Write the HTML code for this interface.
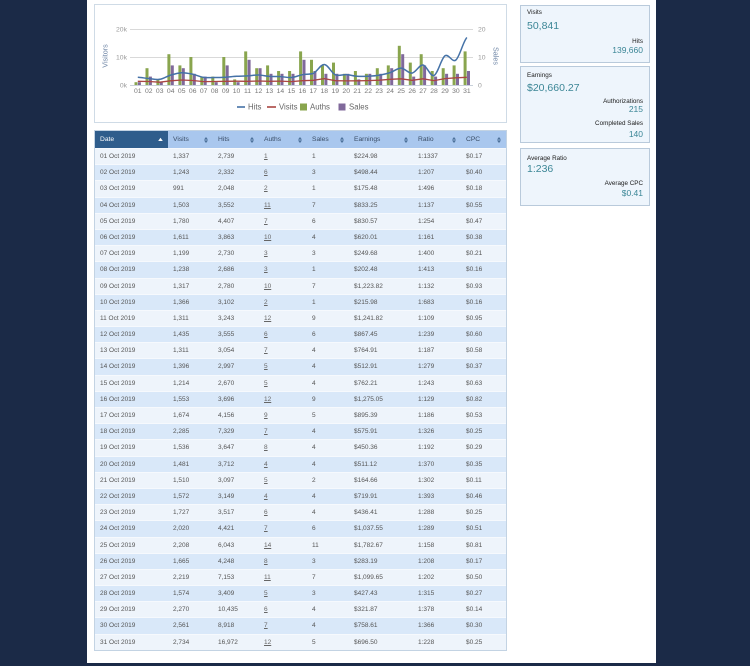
<!DOCTYPE html>
<html>
<head>
<meta charset="utf-8">
<style>
  html,body{margin:0;padding:0;}
  body{width:750px;height:666px;background:#1b2a47;position:relative;overflow:hidden;font-family:"Liberation Sans",Arial,sans-serif;}
  .page{position:absolute;left:87px;top:0;width:569px;height:663px;background:#fff;}
  .chartbox{position:absolute;left:94px;top:4px;width:413px;height:119px;border:1px solid #cfdbe6;box-sizing:border-box;background:#fff;}
  svg.chart{position:absolute;left:0;top:0;}
  .panel{position:absolute;left:520px;width:130px;background:#eef5fc;border:1px solid #b9cadb;box-sizing:border-box;}
  .t{position:absolute;white-space:nowrap;line-height:1;}
  .lbl{font-size:6.3px;color:#1a1a1a;}
  .big{font-size:10.5px;color:#3b8696;}
  .mid{font-size:8.5px;color:#3b8696;}
  .tbl{position:absolute;left:94px;top:130px;width:413px;border:1px solid #c3d3e3;box-sizing:border-box;font-size:6.5px;color:#555;background:#eef4fb;}
  .hd{display:flex;height:17px;line-height:17px;background:#a9c7ee;color:#3a4d66;font-size:6.7px;}
  .hd > div{position:relative;padding-left:5px;box-sizing:border-box;}
  .hd > div.dt{background:#2f5d8c;color:#fff;}
  .hd svg{position:absolute;right:5px;top:5.5px;}
  .r{display:flex;height:16.2px;line-height:16.2px;box-sizing:border-box;border-top:1px solid #f6f9fd;}
  .r > div{padding-left:5px;box-sizing:border-box;white-space:nowrap;}
  .a{background:#eef4fb;}
  .b{background:#d9e8f9;}
  .c1{width:73px}.c2{width:45px}.c3{width:46px}.c4{width:48px}.c5{width:42px}.c6{width:64px}.c7{width:48px}.c8{width:45px}
  .u{text-decoration:underline;color:#666;}
</style>
</head>
<body>
<div class="page"></div>

<div class="chartbox"></div>
<svg class="chart" width="750" height="130" viewBox="0 0 750 130" font-family="Liberation Sans, Arial, sans-serif">
  <line x1="130" y1="29.5" x2="473" y2="29.5" stroke="#d9d9d9" stroke-width="1"/>
  <line x1="130" y1="57.5" x2="473" y2="57.5" stroke="#d9d9d9" stroke-width="1"/>
  <line x1="130" y1="85.5" x2="473" y2="85.5" stroke="#c8d0da" stroke-width="1"/>
  <g font-size="6.8" fill="#999" text-anchor="end">
    <text x="127" y="31.5">20k</text>
    <text x="127" y="59.5">10k</text>
    <text x="127" y="87.5">0k</text>
  </g>
  <g font-size="6.8" fill="#999" text-anchor="start">
    <text x="478" y="31.5">20</text>
    <text x="478" y="59.5">10</text>
    <text x="478" y="87.5">0</text>
  </g>
  <text transform="translate(107.5,56) rotate(-90)" font-size="7.2" fill="#6f86a6" text-anchor="middle">Visitors</text>
  <text transform="translate(493.5,56) rotate(90)" font-size="7.2" fill="#6f86a6" text-anchor="middle">Sales</text>

  <g font-size="6.8" fill="#777" text-anchor="middle">
    <g transform="translate(137.8,0)"><rect x="-3.3" y="82.2" width="3" height="2.8" fill="#89A54E"/><rect x="0.1" y="82.2" width="3" height="2.8" fill="#80699B"/><text x="0" y="92.8">01</text></g>
    <g transform="translate(148.8,0)"><rect x="-3.3" y="68.2" width="3" height="16.8" fill="#89A54E"/><rect x="0.1" y="76.6" width="3" height="8.4" fill="#80699B"/><text x="0" y="92.8">02</text></g>
    <g transform="translate(159.7,0)"><rect x="-3.3" y="79.4" width="3" height="5.6" fill="#89A54E"/><rect x="0.1" y="82.2" width="3" height="2.8" fill="#80699B"/><text x="0" y="92.8">03</text></g>
    <g transform="translate(170.7,0)"><rect x="-3.3" y="54.2" width="3" height="30.8" fill="#89A54E"/><rect x="0.1" y="65.4" width="3" height="19.6" fill="#80699B"/><text x="0" y="92.8">04</text></g>
    <g transform="translate(181.7,0)"><rect x="-3.3" y="65.4" width="3" height="19.6" fill="#89A54E"/><rect x="0.1" y="68.2" width="3" height="16.8" fill="#80699B"/><text x="0" y="92.8">05</text></g>
    <g transform="translate(192.7,0)"><rect x="-3.3" y="57" width="3" height="28" fill="#89A54E"/><rect x="0.1" y="73.8" width="3" height="11.2" fill="#80699B"/><text x="0" y="92.8">06</text></g>
    <g transform="translate(203.6,0)"><rect x="-3.3" y="76.6" width="3" height="8.4" fill="#89A54E"/><rect x="0.1" y="76.6" width="3" height="8.4" fill="#80699B"/><text x="0" y="92.8">07</text></g>
    <g transform="translate(214.6,0)"><rect x="-3.3" y="76.6" width="3" height="8.4" fill="#89A54E"/><rect x="0.1" y="82.2" width="3" height="2.8" fill="#80699B"/><text x="0" y="92.8">08</text></g>
    <g transform="translate(225.6,0)"><rect x="-3.3" y="57" width="3" height="28" fill="#89A54E"/><rect x="0.1" y="65.4" width="3" height="19.6" fill="#80699B"/><text x="0" y="92.8">09</text></g>
    <g transform="translate(236.5,0)"><rect x="-3.3" y="79.4" width="3" height="5.6" fill="#89A54E"/><rect x="0.1" y="82.2" width="3" height="2.8" fill="#80699B"/><text x="0" y="92.8">10</text></g>
    <g transform="translate(247.5,0)"><rect x="-3.3" y="51.4" width="3" height="33.6" fill="#89A54E"/><rect x="0.1" y="59.8" width="3" height="25.2" fill="#80699B"/><text x="0" y="92.8">11</text></g>
    <g transform="translate(258.5,0)"><rect x="-3.3" y="68.2" width="3" height="16.8" fill="#89A54E"/><rect x="0.1" y="68.2" width="3" height="16.8" fill="#80699B"/><text x="0" y="92.8">12</text></g>
    <g transform="translate(269.4,0)"><rect x="-3.3" y="65.4" width="3" height="19.6" fill="#89A54E"/><rect x="0.1" y="73.8" width="3" height="11.2" fill="#80699B"/><text x="0" y="92.8">13</text></g>
    <g transform="translate(280.4,0)"><rect x="-3.3" y="71" width="3" height="14" fill="#89A54E"/><rect x="0.1" y="73.8" width="3" height="11.2" fill="#80699B"/><text x="0" y="92.8">14</text></g>
    <g transform="translate(291.4,0)"><rect x="-3.3" y="71" width="3" height="14" fill="#89A54E"/><rect x="0.1" y="73.8" width="3" height="11.2" fill="#80699B"/><text x="0" y="92.8">15</text></g>
    <g transform="translate(302.4,0)"><rect x="-3.3" y="51.4" width="3" height="33.6" fill="#89A54E"/><rect x="0.1" y="59.8" width="3" height="25.2" fill="#80699B"/><text x="0" y="92.8">16</text></g>
    <g transform="translate(313.3,0)"><rect x="-3.3" y="59.8" width="3" height="25.2" fill="#89A54E"/><rect x="0.1" y="71" width="3" height="14" fill="#80699B"/><text x="0" y="92.8">17</text></g>
    <g transform="translate(324.3,0)"><rect x="-3.3" y="65.4" width="3" height="19.6" fill="#89A54E"/><rect x="0.1" y="73.8" width="3" height="11.2" fill="#80699B"/><text x="0" y="92.8">18</text></g>
    <g transform="translate(335.3,0)"><rect x="-3.3" y="62.6" width="3" height="22.4" fill="#89A54E"/><rect x="0.1" y="73.8" width="3" height="11.2" fill="#80699B"/><text x="0" y="92.8">19</text></g>
    <g transform="translate(346.2,0)"><rect x="-3.3" y="73.8" width="3" height="11.2" fill="#89A54E"/><rect x="0.1" y="73.8" width="3" height="11.2" fill="#80699B"/><text x="0" y="92.8">20</text></g>
    <g transform="translate(357.2,0)"><rect x="-3.3" y="71" width="3" height="14" fill="#89A54E"/><rect x="0.1" y="79.4" width="3" height="5.6" fill="#80699B"/><text x="0" y="92.8">21</text></g>
    <g transform="translate(368.2,0)"><rect x="-3.3" y="73.8" width="3" height="11.2" fill="#89A54E"/><rect x="0.1" y="73.8" width="3" height="11.2" fill="#80699B"/><text x="0" y="92.8">22</text></g>
    <g transform="translate(379.1,0)"><rect x="-3.3" y="68.2" width="3" height="16.8" fill="#89A54E"/><rect x="0.1" y="73.8" width="3" height="11.2" fill="#80699B"/><text x="0" y="92.8">23</text></g>
    <g transform="translate(390.1,0)"><rect x="-3.3" y="65.4" width="3" height="19.6" fill="#89A54E"/><rect x="0.1" y="68.2" width="3" height="16.8" fill="#80699B"/><text x="0" y="92.8">24</text></g>
    <g transform="translate(401.1,0)"><rect x="-3.3" y="45.8" width="3" height="39.2" fill="#89A54E"/><rect x="0.1" y="54.2" width="3" height="30.8" fill="#80699B"/><text x="0" y="92.8">25</text></g>
    <g transform="translate(412.1,0)"><rect x="-3.3" y="62.6" width="3" height="22.4" fill="#89A54E"/><rect x="0.1" y="76.6" width="3" height="8.4" fill="#80699B"/><text x="0" y="92.8">26</text></g>
    <g transform="translate(423.0,0)"><rect x="-3.3" y="54.2" width="3" height="30.8" fill="#89A54E"/><rect x="0.1" y="65.4" width="3" height="19.6" fill="#80699B"/><text x="0" y="92.8">27</text></g>
    <g transform="translate(434.0,0)"><rect x="-3.3" y="71" width="3" height="14" fill="#89A54E"/><rect x="0.1" y="76.6" width="3" height="8.4" fill="#80699B"/><text x="0" y="92.8">28</text></g>
    <g transform="translate(445.0,0)"><rect x="-3.3" y="68.2" width="3" height="16.8" fill="#89A54E"/><rect x="0.1" y="73.8" width="3" height="11.2" fill="#80699B"/><text x="0" y="92.8">29</text></g>
    <g transform="translate(455.9,0)"><rect x="-3.3" y="65.4" width="3" height="19.6" fill="#89A54E"/><rect x="0.1" y="73.8" width="3" height="11.2" fill="#80699B"/><text x="0" y="92.8">30</text></g>
    <g transform="translate(466.9,0)"><rect x="-3.3" y="51.4" width="3" height="33.6" fill="#89A54E"/><rect x="0.1" y="71" width="3" height="14" fill="#80699B"/><text x="0" y="92.8">31</text></g>
  </g>

  <polyline fill="none" stroke="#AA4643" stroke-width="1.3" stroke-linejoin="round"
    points="137.8,81.3 148.8,81.5 159.7,82.2 170.7,80.8 181.7,80.0 192.7,80.5 203.6,81.6 214.6,81.5 225.6,81.3 236.5,81.2 247.5,81.3 258.5,81.0 269.4,81.3 280.4,81.1 291.4,81.6 302.4,80.7 313.3,80.3 324.3,78.6 335.3,80.7 346.2,80.9 357.2,80.8 368.2,80.6 379.1,80.2 390.1,79.3 401.1,78.8 412.1,80.3 423.0,78.8 434.0,80.6 445.0,78.6 455.9,77.8 466.9,77.3"/>
  <path fill="none" stroke="#4572A7" stroke-width="1.5" stroke-linejoin="round"
    d="M137.8,77.3 C141.5,77.5 145.1,78.2 148.8,78.5 C152.5,78.8 156.0,79.9 159.7,79.3 C163.4,78.7 167.0,76.2 170.7,75.1 C174.4,74.0 178.0,72.9 181.7,72.7 C185.4,72.6 189.0,73.4 192.7,74.2 C196.4,75.0 199.9,76.9 203.6,77.4 C207.3,78.0 210.9,77.5 214.6,77.5 C218.3,77.5 221.9,77.4 225.6,77.2 C229.3,77.0 232.8,76.5 236.5,76.3 C240.2,76.1 243.8,76.1 247.5,75.9 C251.2,75.7 254.8,74.9 258.5,75.0 C262.2,75.1 265.7,76.1 269.4,76.4 C273.1,76.7 276.7,76.4 280.4,76.6 C284.1,76.8 287.7,77.8 291.4,77.5 C295.1,77.2 298.7,75.4 302.4,74.7 C306.1,74.0 309.6,74.6 313.3,73.4 C317.0,71.7 320.6,64.3 324.3,64.5 C328.0,64.7 331.6,73.1 335.3,74.8 C339.0,76.5 342.5,74.4 346.2,74.6 C349.9,74.8 353.5,76.0 357.2,76.3 C360.9,76.6 364.5,76.4 368.2,76.2 C371.9,76.0 375.4,75.8 379.1,75.2 C382.8,74.6 386.4,73.8 390.1,72.6 C393.8,71.4 397.4,68.0 401.1,68.1 C404.8,68.2 408.4,73.6 412.1,73.1 C415.8,72.6 419.3,64.6 423.0,65.0 C426.7,65.4 430.3,77.0 434.0,75.5 C437.7,74.0 441.3,58.4 445.0,55.8 C448.7,53.2 452.2,63.1 455.9,60.0 C459.6,56.9 463.2,41.3 466.9,37.5"/>

  <g font-size="7.8" fill="#666">
    <line x1="237" y1="107" x2="245" y2="107" stroke="#4572A7" stroke-width="1.6"/>
    <text x="248" y="109.7">Hits</text>
    <line x1="267" y1="107" x2="276" y2="107" stroke="#AA4643" stroke-width="1.6"/>
    <text x="279" y="109.7">Visits</text>
    <rect x="300" y="103.5" width="7" height="7" fill="#89A54E"/>
    <text x="310" y="109.7">Auths</text>
    <rect x="338.5" y="103.5" width="7" height="7" fill="#80699B"/>
    <text x="349" y="109.7">Sales</text>
  </g>
</svg>

<div class="panel" style="top:5px;height:58px;"></div>
<div class="panel" style="top:66px;height:77px;"></div>
<div class="panel" style="top:148px;height:58px;"></div>

<div class="t lbl" style="left:527px;top:10px;">Visits</div>
<div class="t big" style="left:527px;top:20.8px;">50,841</div>
<div class="t lbl" style="right:107px;top:39px;">Hits</div>
<div class="t mid" style="right:107px;top:45.8px;">139,660</div>

<div class="t lbl" style="left:527px;top:73px;">Earnings</div>
<div class="t big" style="left:527px;top:82.8px;">$20,660.27</div>
<div class="t lbl" style="right:107px;top:99px;">Authorizations</div>
<div class="t mid" style="right:107px;top:104.8px;">215</div>
<div class="t lbl" style="right:107px;top:121px;">Completed Sales</div>
<div class="t mid" style="right:107px;top:129.8px;">140</div>

<div class="t lbl" style="left:527px;top:156px;">Average Ratio</div>
<div class="t big" style="left:527px;top:163.8px;">1:236</div>
<div class="t lbl" style="right:107px;top:181px;">Average CPC</div>
<div class="t mid" style="right:107px;top:188.8px;">$0.41</div>

<div class="tbl">
  <div class="hd">
    <div class="c1 dt">Date<svg width="5" height="5"><path d="M2.5 0.8L4.8 4H0.2Z" fill="#fff"/></svg></div>
    <div class="c2">Visits<svg width="4" height="6"><path d="M2 0L4 2.6H0Z M2 6L4 3.4H0Z" fill="#4b6f98"/></svg></div>
    <div class="c3">Hits<svg width="4" height="6"><path d="M2 0L4 2.6H0Z M2 6L4 3.4H0Z" fill="#4b6f98"/></svg></div>
    <div class="c4">Auths<svg width="4" height="6"><path d="M2 0L4 2.6H0Z M2 6L4 3.4H0Z" fill="#4b6f98"/></svg></div>
    <div class="c5">Sales<svg width="4" height="6"><path d="M2 0L4 2.6H0Z M2 6L4 3.4H0Z" fill="#4b6f98"/></svg></div>
    <div class="c6">Earnings<svg width="4" height="6"><path d="M2 0L4 2.6H0Z M2 6L4 3.4H0Z" fill="#4b6f98"/></svg></div>
    <div class="c7">Ratio<svg width="4" height="6"><path d="M2 0L4 2.6H0Z M2 6L4 3.4H0Z" fill="#4b6f98"/></svg></div>
    <div class="c8">CPC<svg width="4" height="6"><path d="M2 0L4 2.6H0Z M2 6L4 3.4H0Z" fill="#4b6f98"/></svg></div>
  </div>
  <div class="r a"><div class="c1">01 Oct 2019</div><div class="c2">1,337</div><div class="c3">2,739</div><div class="c4"><span class="u">1</span></div><div class="c5">1</div><div class="c6">$224.98</div><div class="c7">1:1337</div><div class="c8">$0.17</div></div>
  <div class="r b"><div class="c1">02 Oct 2019</div><div class="c2">1,243</div><div class="c3">2,332</div><div class="c4"><span class="u">6</span></div><div class="c5">3</div><div class="c6">$498.44</div><div class="c7">1:207</div><div class="c8">$0.40</div></div>
  <div class="r a"><div class="c1">03 Oct 2019</div><div class="c2">991</div><div class="c3">2,048</div><div class="c4"><span class="u">2</span></div><div class="c5">1</div><div class="c6">$175.48</div><div class="c7">1:496</div><div class="c8">$0.18</div></div>
  <div class="r b"><div class="c1">04 Oct 2019</div><div class="c2">1,503</div><div class="c3">3,552</div><div class="c4"><span class="u">11</span></div><div class="c5">7</div><div class="c6">$833.25</div><div class="c7">1:137</div><div class="c8">$0.55</div></div>
  <div class="r a"><div class="c1">05 Oct 2019</div><div class="c2">1,780</div><div class="c3">4,407</div><div class="c4"><span class="u">7</span></div><div class="c5">6</div><div class="c6">$830.57</div><div class="c7">1:254</div><div class="c8">$0.47</div></div>
  <div class="r b"><div class="c1">06 Oct 2019</div><div class="c2">1,611</div><div class="c3">3,863</div><div class="c4"><span class="u">10</span></div><div class="c5">4</div><div class="c6">$620.01</div><div class="c7">1:161</div><div class="c8">$0.38</div></div>
  <div class="r a"><div class="c1">07 Oct 2019</div><div class="c2">1,199</div><div class="c3">2,730</div><div class="c4"><span class="u">3</span></div><div class="c5">3</div><div class="c6">$249.68</div><div class="c7">1:400</div><div class="c8">$0.21</div></div>
  <div class="r b"><div class="c1">08 Oct 2019</div><div class="c2">1,238</div><div class="c3">2,686</div><div class="c4"><span class="u">3</span></div><div class="c5">1</div><div class="c6">$202.48</div><div class="c7">1:413</div><div class="c8">$0.16</div></div>
  <div class="r a"><div class="c1">09 Oct 2019</div><div class="c2">1,317</div><div class="c3">2,780</div><div class="c4"><span class="u">10</span></div><div class="c5">7</div><div class="c6">$1,223.82</div><div class="c7">1:132</div><div class="c8">$0.93</div></div>
  <div class="r b"><div class="c1">10 Oct 2019</div><div class="c2">1,366</div><div class="c3">3,102</div><div class="c4"><span class="u">2</span></div><div class="c5">1</div><div class="c6">$215.98</div><div class="c7">1:683</div><div class="c8">$0.16</div></div>
  <div class="r a"><div class="c1">11 Oct 2019</div><div class="c2">1,311</div><div class="c3">3,243</div><div class="c4"><span class="u">12</span></div><div class="c5">9</div><div class="c6">$1,241.82</div><div class="c7">1:109</div><div class="c8">$0.95</div></div>
  <div class="r b"><div class="c1">12 Oct 2019</div><div class="c2">1,435</div><div class="c3">3,555</div><div class="c4"><span class="u">6</span></div><div class="c5">6</div><div class="c6">$867.45</div><div class="c7">1:239</div><div class="c8">$0.60</div></div>
  <div class="r a"><div class="c1">13 Oct 2019</div><div class="c2">1,311</div><div class="c3">3,054</div><div class="c4"><span class="u">7</span></div><div class="c5">4</div><div class="c6">$764.91</div><div class="c7">1:187</div><div class="c8">$0.58</div></div>
  <div class="r b"><div class="c1">14 Oct 2019</div><div class="c2">1,396</div><div class="c3">2,997</div><div class="c4"><span class="u">5</span></div><div class="c5">4</div><div class="c6">$512.91</div><div class="c7">1:279</div><div class="c8">$0.37</div></div>
  <div class="r a"><div class="c1">15 Oct 2019</div><div class="c2">1,214</div><div class="c3">2,670</div><div class="c4"><span class="u">5</span></div><div class="c5">4</div><div class="c6">$762.21</div><div class="c7">1:243</div><div class="c8">$0.63</div></div>
  <div class="r b"><div class="c1">16 Oct 2019</div><div class="c2">1,553</div><div class="c3">3,696</div><div class="c4"><span class="u">12</span></div><div class="c5">9</div><div class="c6">$1,275.05</div><div class="c7">1:129</div><div class="c8">$0.82</div></div>
  <div class="r a"><div class="c1">17 Oct 2019</div><div class="c2">1,674</div><div class="c3">4,156</div><div class="c4"><span class="u">9</span></div><div class="c5">5</div><div class="c6">$895.39</div><div class="c7">1:186</div><div class="c8">$0.53</div></div>
  <div class="r b"><div class="c1">18 Oct 2019</div><div class="c2">2,285</div><div class="c3">7,329</div><div class="c4"><span class="u">7</span></div><div class="c5">4</div><div class="c6">$575.91</div><div class="c7">1:326</div><div class="c8">$0.25</div></div>
  <div class="r a"><div class="c1">19 Oct 2019</div><div class="c2">1,536</div><div class="c3">3,647</div><div class="c4"><span class="u">8</span></div><div class="c5">4</div><div class="c6">$450.36</div><div class="c7">1:192</div><div class="c8">$0.29</div></div>
  <div class="r b"><div class="c1">20 Oct 2019</div><div class="c2">1,481</div><div class="c3">3,712</div><div class="c4"><span class="u">4</span></div><div class="c5">4</div><div class="c6">$511.12</div><div class="c7">1:370</div><div class="c8">$0.35</div></div>
  <div class="r a"><div class="c1">21 Oct 2019</div><div class="c2">1,510</div><div class="c3">3,097</div><div class="c4"><span class="u">5</span></div><div class="c5">2</div><div class="c6">$164.66</div><div class="c7">1:302</div><div class="c8">$0.11</div></div>
  <div class="r b"><div class="c1">22 Oct 2019</div><div class="c2">1,572</div><div class="c3">3,149</div><div class="c4"><span class="u">4</span></div><div class="c5">4</div><div class="c6">$719.91</div><div class="c7">1:393</div><div class="c8">$0.46</div></div>
  <div class="r a"><div class="c1">23 Oct 2019</div><div class="c2">1,727</div><div class="c3">3,517</div><div class="c4"><span class="u">6</span></div><div class="c5">4</div><div class="c6">$436.41</div><div class="c7">1:288</div><div class="c8">$0.25</div></div>
  <div class="r b"><div class="c1">24 Oct 2019</div><div class="c2">2,020</div><div class="c3">4,421</div><div class="c4"><span class="u">7</span></div><div class="c5">6</div><div class="c6">$1,037.55</div><div class="c7">1:289</div><div class="c8">$0.51</div></div>
  <div class="r a"><div class="c1">25 Oct 2019</div><div class="c2">2,208</div><div class="c3">6,043</div><div class="c4"><span class="u">14</span></div><div class="c5">11</div><div class="c6">$1,782.67</div><div class="c7">1:158</div><div class="c8">$0.81</div></div>
  <div class="r b"><div class="c1">26 Oct 2019</div><div class="c2">1,665</div><div class="c3">4,248</div><div class="c4"><span class="u">8</span></div><div class="c5">3</div><div class="c6">$283.19</div><div class="c7">1:208</div><div class="c8">$0.17</div></div>
  <div class="r a"><div class="c1">27 Oct 2019</div><div class="c2">2,219</div><div class="c3">7,153</div><div class="c4"><span class="u">11</span></div><div class="c5">7</div><div class="c6">$1,099.65</div><div class="c7">1:202</div><div class="c8">$0.50</div></div>
  <div class="r b"><div class="c1">28 Oct 2019</div><div class="c2">1,574</div><div class="c3">3,409</div><div class="c4"><span class="u">5</span></div><div class="c5">3</div><div class="c6">$427.43</div><div class="c7">1:315</div><div class="c8">$0.27</div></div>
  <div class="r a"><div class="c1">29 Oct 2019</div><div class="c2">2,270</div><div class="c3">10,435</div><div class="c4"><span class="u">6</span></div><div class="c5">4</div><div class="c6">$321.87</div><div class="c7">1:378</div><div class="c8">$0.14</div></div>
  <div class="r b"><div class="c1">30 Oct 2019</div><div class="c2">2,561</div><div class="c3">8,918</div><div class="c4"><span class="u">7</span></div><div class="c5">4</div><div class="c6">$758.61</div><div class="c7">1:366</div><div class="c8">$0.30</div></div>
  <div class="r a"><div class="c1">31 Oct 2019</div><div class="c2">2,734</div><div class="c3">16,972</div><div class="c4"><span class="u">12</span></div><div class="c5">5</div><div class="c6">$696.50</div><div class="c7">1:228</div><div class="c8">$0.25</div></div>
</div>
</body>
</html>
